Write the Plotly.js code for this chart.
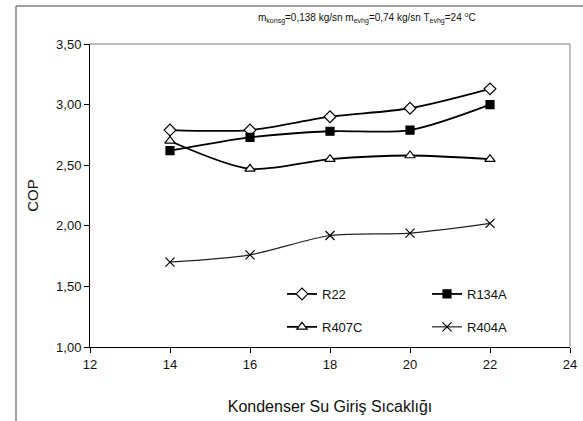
<!DOCTYPE html>
<html>
<head>
<meta charset="utf-8">
<script src="https://cdn.plot.ly/plotly-3.0.1.min.js"></script>
<style>html,body{margin:0;padding:0;background:#fff;}#chart{width:583px;height:421px;}</style>
</head>
<body>
<div id="chart"></div>
<script>
const xValues = [14, 16, 18, 20, 22];
const r22 = [2.79, 2.79, 2.90, 2.97, 3.13];
const r134a = [2.62, 2.73, 2.78, 2.79, 3.00];
const r407c = [2.70, 2.47, 2.55, 2.58, 2.55];
const r404a = [1.70, 1.76, 1.92, 1.94, 2.02];
const seriesNames = ["R22", "R134A", "R407C", "R404A"];
const yTicks = [1.0, 1.5, 2.0, 2.5, 3.0, 3.5];
const xTicks = [12, 14, 16, 18, 20, 22, 24];

function tr(name, y, sym, size, fill, lw, legend, group, lc) {
  return {
    x: xValues, y: y, name: name, type: 'scatter', mode: 'lines+markers',
    line: {color: lc || '#000', width: lw, shape: 'spline', smoothing: 0.8},
    marker: {symbol: sym, size: size, color: fill, line: {color: '#000', width: 1.2}},
    legend: legend, legendgroup: group
  };
}
const data = [
  tr(seriesNames[0], r22, 'diamond', 9, '#fff', 1.8, 'legend', 'a'),
  tr(seriesNames[1], r134a, 'square', 8, '#000', 1.8, 'legend2', 'b'),
  tr(seriesNames[2], r407c, 'triangle-up', 9, '#fff', 1.8, 'legend', 'c'),
  tr(seriesNames[3], r404a, 'x-thin', 9, '#000', 1.2, 'legend2', 'd', '#222')
];

const font = {family: 'Liberation Sans, Arial, sans-serif', color: '#111'};
const W = 480, H = 303, L = 90, T = 44;
const px = v => (v - L) / W, py = v => (T + H - v) / H;

const layout = {
  width: 583, height: 421,
  margin: {l: L, r: 13, t: T, b: 74},
  paper_bgcolor: '#fff', plot_bgcolor: '#fff',
  separators: ',.',
  font: Object.assign({size: 13}, font),
  showlegend: true,
  xaxis: {
    range: [12, 24], tickvals: xTicks, ticktext: xTicks.map(String),
    showgrid: false, zeroline: false, showline: true, linecolor: '#000', linewidth: 1,
    ticks: 'outside', ticklen: 5, tickcolor: '#000',
    tickfont: Object.assign({size: 13}, font),
    title: {text: 'Kondenser Su Giriş Sıcaklığı', font: Object.assign({size: 16}, font), standoff: 30}
  },
  yaxis: {
    range: [1.0, 3.5], tickvals: yTicks, tickformat: '.2f',
    showgrid: false, zeroline: false, showline: true, linecolor: '#000', linewidth: 1,
    ticks: 'outside', ticklen: 5, tickcolor: '#000',
    tickfont: Object.assign({size: 13}, font),
    title: {text: 'COP', font: Object.assign({size: 15}, font), standoff: 13}
  },
  legend: {x: px(282), y: py(279), xanchor: 'left', yanchor: 'top', bgcolor: 'rgba(0,0,0,0)',
           tracegroupgap: 13, font: Object.assign({size: 13}, font), itemwidth: 30},
  legend2: {x: px(427), y: py(279), xanchor: 'left', yanchor: 'top', bgcolor: 'rgba(0,0,0,0)',
           tracegroupgap: 13, font: Object.assign({size: 13}, font), itemwidth: 30},
  annotations: [{
    xref: 'paper', yref: 'paper', x: px(367), y: py(18), xanchor: 'center', yanchor: 'middle',
    showarrow: false, font: Object.assign({size: 10}, font),
    text: 'm<sub>konsg</sub>=0,138 kg/sn m<sub>evhg</sub>=0,74 kg/sn T<sub>evhg</sub>=24 <sup>o</sup>C'
  }],
  shapes: [
    {type: 'line', xref: 'paper', yref: 'paper', x0: 0, x1: 1, y0: 1, y1: 1, line: {color: '#808080', width: 1}},
    {type: 'line', xref: 'paper', yref: 'paper', x0: 1, x1: 1, y0: 0, y1: 1, line: {color: '#808080', width: 1}},
    {type: 'line', xref: 'paper', yref: 'paper', x0: px(16), x1: px(16), y0: py(6), y1: py(421), line: {color: '#808080', width: 1.5}},
    {type: 'line', xref: 'paper', yref: 'paper', x0: px(16), x1: px(583), y0: py(6), y1: py(6), line: {color: '#808080', width: 1.5}}
  ]
};
Plotly.newPlot('chart', data, layout, {displayModeBar: false, staticPlot: true});
</script>
</body>
</html>
